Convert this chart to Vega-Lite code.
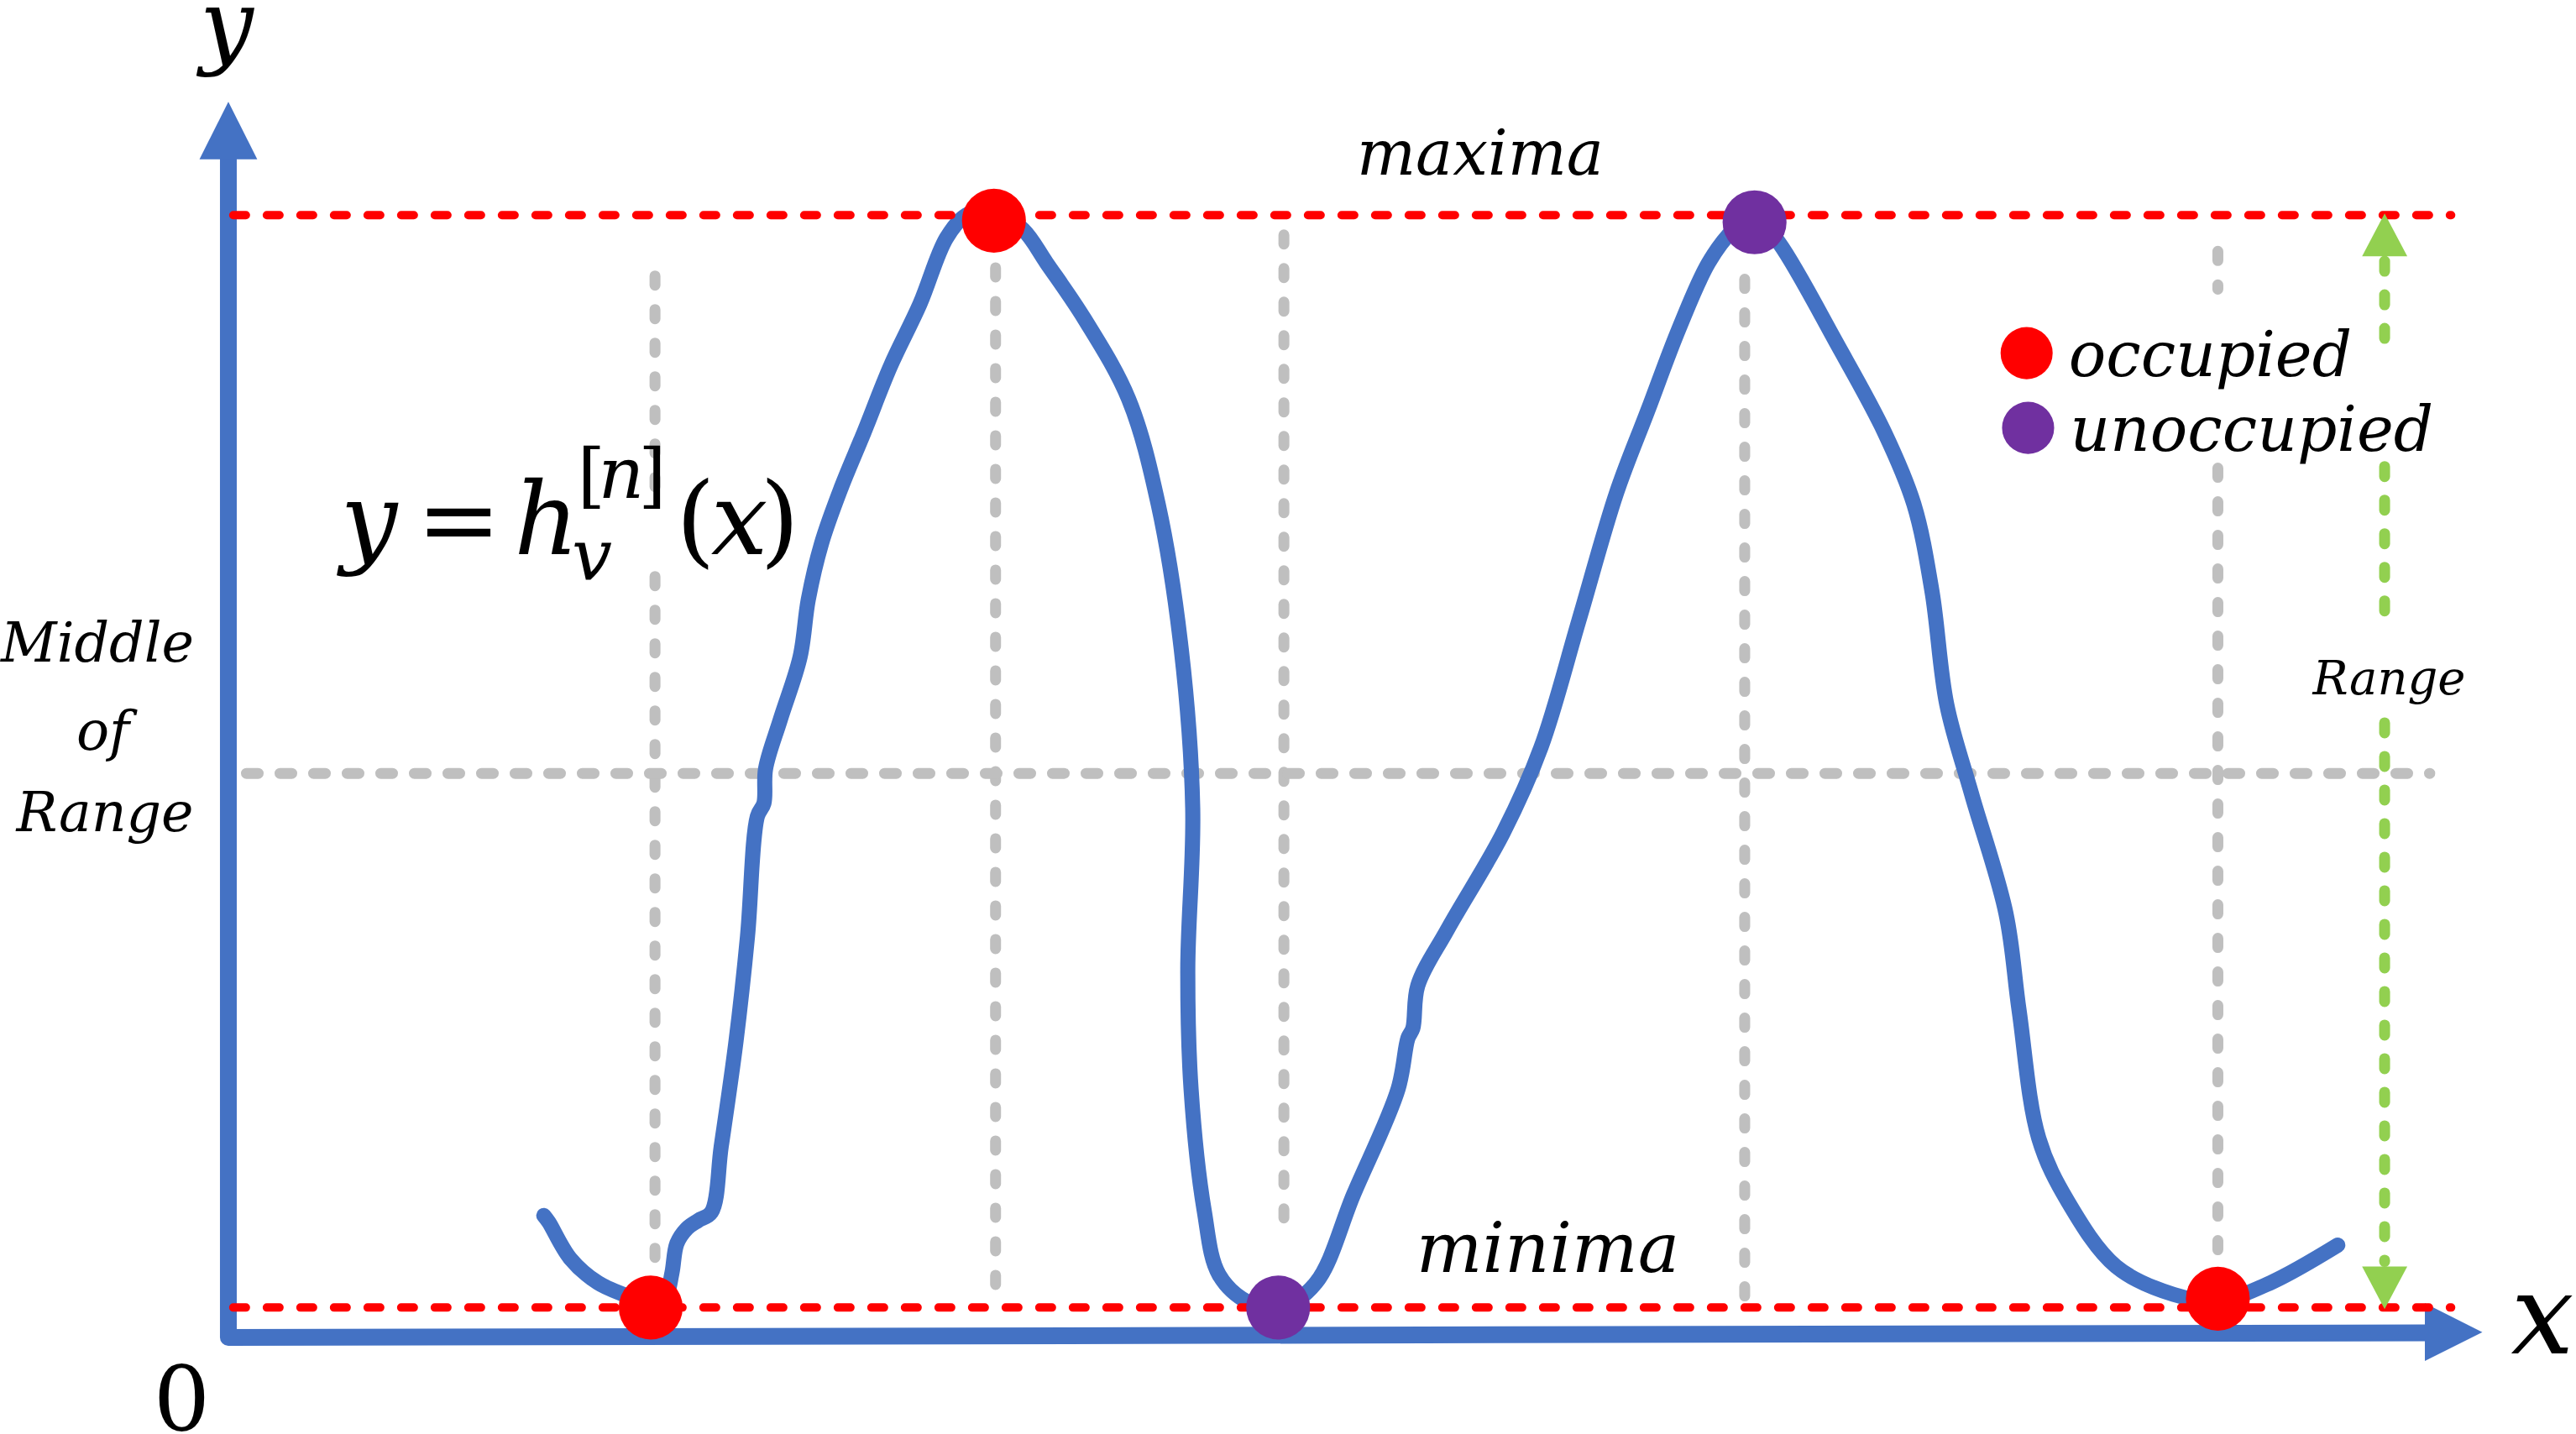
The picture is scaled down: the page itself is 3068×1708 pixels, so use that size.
{
  "$schema": "https://vega.github.io/schema/vega-lite/v6.json",
  "width": 3068,
  "height": 1708,
  "autosize": {"type": "none"},
  "padding": 0,
  "background": "white",
  "config": {"view": {"stroke": null}},
  "datasets": {
    "curve": [
      {"i": 0, "x": 1.92, "y": 0.0842}, {"i": 1, "x": 1.95, "y": 0.0782}, {"i": 2, "x": 2.08, "y": 0.0451},
      {"i": 3, "x": 2.25, "y": 0.0226}, {"i": 4, "x": 2.43, "y": 0.0105}, {"i": 5, "x": 2.58, "y": 0.0015},
      {"i": 6, "x": 2.66, "y": 0.009}, {"i": 7, "x": 2.7, "y": 0.0316}, {"i": 8, "x": 2.73, "y": 0.0586},
      {"i": 9, "x": 2.79, "y": 0.0722}, {"i": 10, "x": 2.86, "y": 0.0797}, {"i": 11, "x": 2.94, "y": 0.0872},
      {"i": 12, "x": 3.0, "y": 0.1474}, {"i": 13, "x": 3.09, "y": 0.2436}, {"i": 14, "x": 3.16, "y": 0.3398},
      {"i": 15, "x": 3.22, "y": 0.4496}, {"i": 16, "x": 3.26, "y": 0.4617}, {"i": 17, "x": 3.27, "y": 0.4932},
      {"i": 18, "x": 3.36, "y": 0.5383}, {"i": 19, "x": 3.48, "y": 0.5955}, {"i": 20, "x": 3.53, "y": 0.6481},
      {"i": 21, "x": 3.61, "y": 0.6992}, {"i": 22, "x": 3.73, "y": 0.7504}, {"i": 23, "x": 3.87, "y": 0.8015},
      {"i": 24, "x": 4.03, "y": 0.8617}, {"i": 25, "x": 4.21, "y": 0.9188}, {"i": 26, "x": 4.37, "y": 0.9789},
      {"i": 27, "x": 4.49, "y": 1.0}, {"i": 28, "x": 4.65, "y": 1.006}, {"i": 29, "x": 4.84, "y": 0.9865},
      {"i": 30, "x": 4.98, "y": 0.9564}, {"i": 31, "x": 5.21, "y": 0.9053}, {"i": 32, "x": 5.48, "y": 0.8316},
      {"i": 33, "x": 5.66, "y": 0.7353}, {"i": 34, "x": 5.8, "y": 0.603}, {"i": 35, "x": 5.87, "y": 0.4571},
      {"i": 36, "x": 5.84, "y": 0.3098}, {"i": 37, "x": 5.86, "y": 0.2}, {"i": 38, "x": 5.94, "y": 0.0887},
      {"i": 39, "x": 6.03, "y": 0.0301}, {"i": 40, "x": 6.21, "y": 0.0045}, {"i": 41, "x": 6.39, "y": -0.0015},
      {"i": 42, "x": 6.62, "y": 0.0226}, {"i": 43, "x": 6.85, "y": 0.1038}, {"i": 44, "x": 7.12, "y": 0.2},
      {"i": 45, "x": 7.18, "y": 0.2466}, {"i": 46, "x": 7.21, "y": 0.2556}, {"i": 47, "x": 7.24, "y": 0.2947},
      {"i": 48, "x": 7.42, "y": 0.3459}, {"i": 49, "x": 7.76, "y": 0.4346}, {"i": 50, "x": 7.99, "y": 0.5128},
      {"i": 51, "x": 8.22, "y": 0.6286}, {"i": 52, "x": 8.45, "y": 0.7459}, {"i": 53, "x": 8.64, "y": 0.8211},
      {"i": 54, "x": 8.83, "y": 0.8962}, {"i": 55, "x": 9.01, "y": 0.9564}, {"i": 56, "x": 9.16, "y": 0.9865},
      {"i": 57, "x": 9.29, "y": 1.0}, {"i": 58, "x": 9.44, "y": 0.9744}, {"i": 59, "x": 9.79, "y": 0.8827},
      {"i": 60, "x": 10.08, "y": 0.8015}, {"i": 61, "x": 10.26, "y": 0.7353}, {"i": 62, "x": 10.37, "y": 0.6556},
      {"i": 63, "x": 10.46, "y": 0.5519}, {"i": 64, "x": 10.61, "y": 0.4707}, {"i": 65, "x": 10.82, "y": 0.3609},
      {"i": 66, "x": 10.9, "y": 0.2722}, {"i": 67, "x": 11.02, "y": 0.1549}, {"i": 68, "x": 11.2, "y": 0.0962},
      {"i": 69, "x": 11.49, "y": 0.0376}, {"i": 70, "x": 11.84, "y": 0.012}, {"i": 71, "x": 12.11, "y": 0.006},
      {"i": 72, "x": 12.43, "y": 0.0226}, {"i": 73, "x": 12.84, "y": 0.0571}
    ],
    "axes": [
      {"i": 0, "x": 0, "y": 1.06}, {"i": 1, "x": 0, "y": -0.0274}, {"i": 2, "x": 13.4, "y": -0.0232}
    ],
    "upArrow": [
      {"y": 1.0511, "x": -0.176, "x2": 0.176}, {"y": 1.1038, "x": 0, "x2": 0}
    ],
    "rightArrow": [
      {"x": 13.37, "y": 0.0039, "y2": -0.049}, {"x": 13.72, "y": -0.0226, "y2": -0.0226}
    ],
    "limits": [
      {"name": "maxima", "x": 0.03, "x2": 13.53, "y": 1.0},
      {"name": "minima", "x": 0.03, "x2": 13.53, "y": 0.0}
    ],
    "middle": [{"x": 0.11, "x2": 13.4, "y": 0.489}],
    "guides": [
      {"x": 2.597, "y": 0.9444, "y2": 0.7398}, {"x": 2.597, "y": 0.6692, "y2": 0.0301},
      {"x": 4.67, "y": 0.9519, "y2": 0.0015}, {"x": 6.425, "y": 0.982, "y2": 0.0632},
      {"x": 9.23, "y": 0.9414, "y2": -0.0015}, {"x": 12.11, "y": 0.9669, "y2": 0.9323},
      {"x": 12.11, "y": 0.7684, "y2": 0.0271}
    ],
    "rangeLine": [
      {"x": 13.125, "y": 0.9579, "y2": 0.8684}, {"x": 13.125, "y": 0.7699, "y2": 0.618},
      {"x": 13.125, "y": 0.5353, "y2": 0.0421}
    ],
    "rangeHeads": [
      {"end": "top", "y": 0.9624, "x": 12.988, "x2": 13.263}, {"end": "top", "y": 1.0015, "x": 13.125, "x2": 13.125},
      {"end": "bottom", "y": 0.0376, "x": 12.988, "x2": 13.263}, {"end": "bottom", "y": -0.0015, "x": 13.125, "x2": 13.125}
    ],
    "nodes": [
      {"x": 2.571, "y": 0.0, "status": "occupied"}, {"x": 4.66, "y": 0.995, "status": "occupied"},
      {"x": 6.39, "y": 0.0, "status": "unoccupied"}, {"x": 9.29, "y": 0.9935, "status": "unoccupied"},
      {"x": 12.11, "y": 0.008, "status": "occupied"}
    ],
    "key": [
      {"x": 10.946, "y": 0.8737, "status": "occupied"}, {"x": 10.955, "y": 0.8053, "status": "unoccupied"}
    ],
    "yLabel": [{"label": "y", "x": -0.01, "y": 1.1455}],
    "xLabel": [{"label": "x", "x": 14.086, "y": -0.042}],
    "zero": [{"label": "0", "x": -0.284, "y": -0.1119}],
    "maxLabel": [{"label": "maxima", "x": 7.62, "y": 1.0371}],
    "minLabel": [{"label": "minima", "x": 8.032, "y": 0.0326}],
    "midLabel": [
      {"label": "Middle", "x": -0.797, "y": 0.5914}, {"label": "of", "x": -0.764, "y": 0.5107},
      {"label": "Range", "x": -0.751, "y": 0.4361}
    ],
    "rangeLabel": [{"label": "Range", "x": 13.153, "y": 0.5614}],
    "fItalic": [
      {"label": "y", "x": 0.856, "y": 0.6898}, {"label": "h", "x": 1.937, "y": 0.6898}, {"label": "x", "x": 3.11, "y": 0.6898}
    ],
    "fUpright": [
      {"label": "=", "x": 1.403, "y": 0.6898}, {"label": "(", "x": 2.844, "y": 0.6898}, {"label": ")", "x": 3.356, "y": 0.6898}
    ],
    "fSmallItalic": [
      {"label": "v", "x": 2.213, "y": 0.6666}, {"label": "n", "x": 2.392, "y": 0.7413}
    ],
    "fSmallUpright": [
      {"label": "[", "x": 2.21, "y": 0.7398}, {"label": "]", "x": 2.58, "y": 0.7398}
    ]
  },
  "encoding": {
    "x": {"field": "x", "type": "quantitative", "scale": {"domain": [-1.39, 14.29], "nice": false, "zero": false}, "axis": null},
    "y": {"field": "y", "type": "quantitative", "scale": {"domain": [-0.1158, 1.197], "nice": false, "zero": false}, "axis": null}
  },
  "layer": [
    {
      "data": {"name": "guides"},
      "mark": {"type": "rule", "color": "#BFBFBF", "strokeWidth": 13, "strokeDash": [11, 29], "strokeCap": "round"},
      "encoding": {"y2": {"field": "y2"}}
    },
    {
      "data": {"name": "middle"},
      "mark": {"type": "rule", "color": "#BFBFBF", "strokeWidth": 13, "strokeDash": [14, 26], "strokeCap": "round"},
      "encoding": {"x2": {"field": "x2"}}
    },
    {
      "data": {"name": "curve"},
      "mark": {"type": "line", "color": "#4472C4", "strokeWidth": 18, "interpolate": "catmull-rom", "strokeCap": "round", "strokeJoin": "round"},
      "encoding": {"order": {"field": "i", "type": "quantitative"}}
    },
    {
      "data": {"name": "axes"},
      "mark": {"type": "line", "color": "#4472C4", "strokeWidth": 20, "strokeCap": "round", "strokeJoin": "round"},
      "encoding": {"order": {"field": "i", "type": "quantitative"}}
    },
    {
      "data": {"name": "upArrow"},
      "mark": {"type": "area", "orient": "horizontal", "color": "#4472C4", "opacity": 1},
      "encoding": {"x2": {"field": "x2"}}
    },
    {
      "data": {"name": "rightArrow"},
      "mark": {"type": "area", "orient": "vertical", "color": "#4472C4", "opacity": 1},
      "encoding": {"y2": {"field": "y2"}}
    },
    {
      "data": {"name": "limits"},
      "mark": {"type": "rule", "color": "#FF0000", "strokeWidth": 10, "strokeDash": [15, 25], "strokeCap": "round"},
      "encoding": {"x2": {"field": "x2"}}
    },
    {
      "data": {"name": "rangeLine"},
      "mark": {"type": "rule", "color": "#92D050", "strokeWidth": 13, "strokeDash": [12, 28], "strokeCap": "round"},
      "encoding": {"y2": {"field": "y2"}}
    },
    {
      "data": {"name": "rangeHeads"},
      "mark": {"type": "area", "orient": "horizontal", "color": "#92D050", "opacity": 1},
      "encoding": {"x2": {"field": "x2"}, "detail": {"field": "end", "type": "nominal"}}
    },
    {
      "data": {"name": "nodes"},
      "mark": {"type": "point", "shape": "circle", "filled": true, "opacity": 1, "size": 5800, "strokeWidth": 0},
      "encoding": {
        "color": {"field": "status", "type": "nominal", "scale": {"domain": ["occupied", "unoccupied"], "range": ["#FF0000", "#7030A0"]}, "legend": null}
      }
    },
    {
      "data": {"name": "key"},
      "mark": {"type": "point", "shape": "circle", "filled": true, "opacity": 1, "size": 3850, "strokeWidth": 0},
      "encoding": {
        "color": {"field": "status", "type": "nominal", "scale": {"domain": ["occupied", "unoccupied"], "range": ["#FF0000", "#7030A0"]}, "legend": null}
      }
    },
    {
      "data": {"name": "key"},
      "mark": {"type": "text", "font": "DejaVu Serif", "fontStyle": "italic", "fontSize": 74, "align": "left", "baseline": "alphabetic", "dx": 50, "dy": 27, "color": "black"},
      "encoding": {"text": {"field": "status"}}
    },
    {
      "data": {"name": "yLabel"},
      "mark": {"type": "text", "font": "DejaVu Serif", "fontStyle": "italic", "fontSize": 113, "align": "center", "baseline": "alphabetic", "color": "black"},
      "encoding": {"text": {"field": "label"}}
    },
    {
      "data": {"name": "xLabel"},
      "mark": {"type": "text", "font": "DejaVu Serif", "fontStyle": "italic", "fontSize": 133, "align": "center", "baseline": "alphabetic", "color": "black"},
      "encoding": {"text": {"field": "label"}}
    },
    {
      "data": {"name": "zero"},
      "mark": {"type": "text", "font": "DejaVu Serif", "fontSize": 106, "align": "center", "baseline": "alphabetic", "color": "black"},
      "encoding": {"text": {"field": "label"}}
    },
    {
      "data": {"name": "maxLabel"},
      "mark": {"type": "text", "font": "DejaVu Serif", "fontStyle": "italic", "fontSize": 74, "align": "center", "baseline": "alphabetic", "color": "black"},
      "encoding": {"text": {"field": "label"}}
    },
    {
      "data": {"name": "minLabel"},
      "mark": {"type": "text", "font": "DejaVu Serif", "fontStyle": "italic", "fontSize": 83, "align": "center", "baseline": "alphabetic", "color": "black"},
      "encoding": {"text": {"field": "label"}}
    },
    {
      "data": {"name": "midLabel"},
      "mark": {"type": "text", "font": "DejaVu Serif", "fontStyle": "italic", "fontSize": 65, "align": "center", "baseline": "alphabetic", "color": "black"},
      "encoding": {"text": {"field": "label"}}
    },
    {
      "data": {"name": "rangeLabel"},
      "mark": {"type": "text", "font": "DejaVu Serif", "fontStyle": "italic", "fontSize": 56, "align": "center", "baseline": "alphabetic", "color": "black"},
      "encoding": {"text": {"field": "label"}}
    },
    {
      "data": {"name": "fItalic"},
      "mark": {"type": "text", "font": "DejaVu Serif", "fontStyle": "italic", "fontSize": 120, "align": "center", "baseline": "alphabetic", "color": "black"},
      "encoding": {"text": {"field": "label"}}
    },
    {
      "data": {"name": "fUpright"},
      "mark": {"type": "text", "font": "DejaVu Serif", "fontSize": 120, "align": "center", "baseline": "alphabetic", "color": "black"},
      "encoding": {"text": {"field": "label"}}
    },
    {
      "data": {"name": "fSmallItalic"},
      "mark": {"type": "text", "font": "DejaVu Serif", "fontStyle": "italic", "fontSize": 85, "align": "center", "baseline": "alphabetic", "color": "black"},
      "encoding": {"text": {"field": "label"}}
    },
    {
      "data": {"name": "fSmallUpright"},
      "mark": {"type": "text", "font": "DejaVu Serif", "fontSize": 85, "align": "center", "baseline": "alphabetic", "color": "black"},
      "encoding": {"text": {"field": "label"}}
    }
  ]
}
